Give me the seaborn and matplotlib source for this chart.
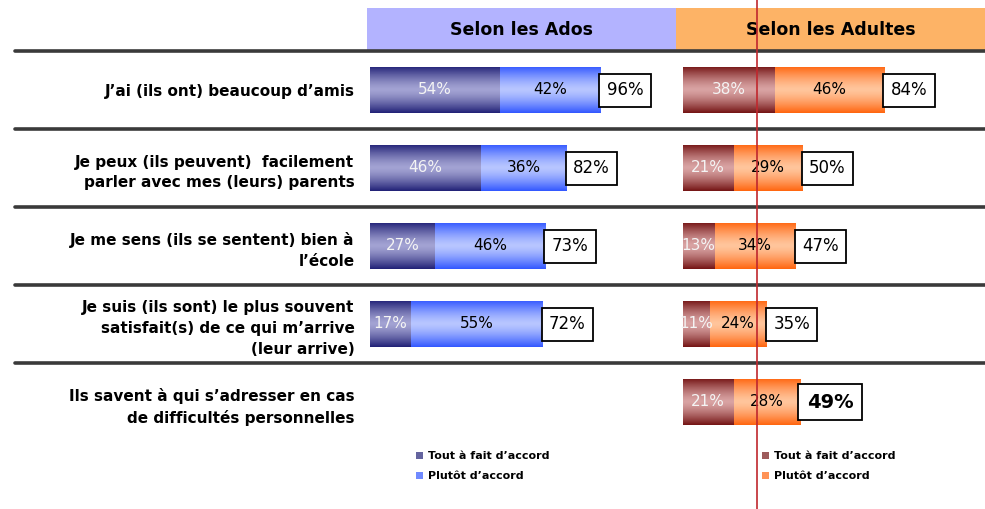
import numpy as np
import pandas as pd
import matplotlib
matplotlib.use("Agg")
import matplotlib.pyplot as plt
from matplotlib.colors import LinearSegmentedColormap
from matplotlib.patches import Rectangle, Patch
from matplotlib.lines import Line2D
import seaborn as sns

# statements (one row each)
statements = [
    "J’ai (ils ont) beaucoup d’amis",
    "Je peux (ils peuvent)  facilement\nparler avec mes (leurs) parents",
    "Je me sens (ils se sentent) bien à\nl’école",
    "Je suis (ils sont) le plus souvent\nsatisfait(s) de ce qui m’arrive\n(leur arrive)",
    "Ils savent à qui s’adresser en cas\nde difficultés personnelles",
]

# selon les ados (no answer for the last statement)
ados_tout = [54, 46, 27, 17]
ados_plutot = [42, 36, 46, 55]
ados_total = [96, 82, 73, 72]

# selon les adultes
adultes_tout = [38, 21, 13, 11, 21]
adultes_plutot = [46, 29, 34, 24, 28]
adultes_total = [84, 50, 47, 35, 49]

legend_labels = ["Tout à fait d’accord", "Plutôt d’accord"]

sns.set_style("white")
plt.rcParams["font.family"] = ["DejaVu Sans"]
plt.rcParams["text.color"] = "black"
plt.rcParams["ytick.labelcolor"] = "black"

W, H = 985, 509
fig = plt.figure(figsize=(W / 100, H / 100), dpi=100)


def fx(px):
    return px / W


def fy(py):
    return 1 - py / H


PX_PER_PCT = 2.4
top, bot = 51, 441


def shade(ax, p, edge, light, z):
    # vertical gradient clipped to the bar, dark edges and light middle
    w = p.get_width()
    if not np.isfinite(w) or w == 0:
        return
    x0, y0, h = p.get_x(), p.get_y(), p.get_height()
    t = np.linspace(0, 1, 80)
    prof = np.abs(2 * t - 1) ** 1.4
    cmap = LinearSegmentedColormap.from_list("g", [light, edge])
    img = cmap(prof)[:, None, :]
    im = ax.imshow(img, extent=(x0, x0 + w, y0 + h, y0), aspect="auto",
                   interpolation="bilinear", zorder=z)
    im.set_clip_path(p)


def draw_panel(ax, tout, plutot, totals, pal, left_px, bold_last=False):
    cats = statements[:len(tout)]
    total_df = pd.DataFrame({"stmt": cats, "val": totals})
    tout_df = pd.DataFrame({"stmt": cats, "val": tout})
    sns.barplot(data=total_df, x="val", y="stmt", order=statements, orient="h",
                color=pal["plutot"][0], width=0.6, saturation=1, errorbar=None, ax=ax)
    n_back = len(ax.patches)
    sns.barplot(data=tout_df, x="val", y="stmt", order=statements, orient="h",
                color=pal["tout"][0], width=0.6, saturation=1, errorbar=None, ax=ax)
    for i, p in enumerate(list(ax.patches)):
        if i < n_back:
            shade(ax, p, *pal["plutot"], 2)
        else:
            shade(ax, p, *pal["tout"], 3)

    for i, (a, b, t) in enumerate(zip(tout, plutot, totals)):
        ax.text(a / 2, i, f"{a}%", ha="center", va="center", color="#f4f4f4",
                fontsize=11, zorder=6)
        ax.text(a + b / 2, i, f"{b}%", ha="center", va="center", color="black",
                fontsize=11, zorder=6)
        last = bold_last and i == len(totals) - 1
        ax.text(t + 2.6, i, f"{t}%", ha="left", va="center", color="black",
                fontsize=14 if last else 12, fontweight="bold" if last else "normal",
                zorder=6,
                bbox=dict(boxstyle="square,pad=0.45", fc="white", ec="black", lw=1.3))

    left = -(left_px) / PX_PER_PCT
    ax.set_xlim(left, left + 309 / PX_PER_PCT)
    ax.set_ylim(4.5, -0.5)
    ax.set_xlabel("")
    ax.set_ylabel("")
    ax.xaxis.set_visible(False)
    for s in ax.spines.values():
        s.set_visible(False)
    ax.patch.set_alpha(0)


# separator lines across the whole width
bg = fig.add_axes([fx(15), fy(bot), 970 / W, (bot - top) / H])
bg.set_xlim(0, 1)
bg.set_ylim(4.5, -0.5)
bg.axis("off")
for yv in [-0.5, 0.5, 1.5, 2.5, 3.5]:
    bg.axhline(yv, color="#3a3a3a", lw=2.6, clip_on=False)

ax1 = fig.add_axes([fx(367), fy(bot), 309 / W, (bot - top) / H])
ax2 = fig.add_axes([fx(676), fy(bot), 309 / W, (bot - top) / H])

pal_ados = {"tout": ("#222277", "#a3a3d3"), "plutot": ("#3358ff", "#b8c6ff")}
pal_adultes = {"tout": ("#751515", "#d9a3a3"), "plutot": ("#ff6610", "#ffc59c")}

draw_panel(ax1, ados_tout, ados_plutot, ados_total, pal_ados, 3)
draw_panel(ax2, adultes_tout, adultes_plutot, adultes_total, pal_adultes, 7, bold_last=True)

ax1.tick_params(axis="y", length=0, pad=9, labelsize=11, labelcolor="black")
for lbl in ax1.get_yticklabels():
    lbl.set_fontweight("bold")
    lbl.set_linespacing(1.5)
    lbl.set_multialignment("right")
ax2.tick_params(axis="y", length=0, labelleft=False)

# headers
fig.add_artist(Rectangle((fx(367), fy(50)), 309 / W, 42 / H, transform=fig.transFigure,
                         fc="#b3b3ff", ec="none", zorder=0))
fig.add_artist(Rectangle((fx(676), fy(50)), 309 / W, 42 / H, transform=fig.transFigure,
                         fc="#fdb366", ec="none", zorder=0))
fig.text(fx(521), fy(30), "Selon les Ados", ha="center", va="center",
         fontsize=12.5, fontweight="bold", color="black")
fig.text(fx(831), fy(30), "Selon les Adultes", ha="center", va="center",
         fontsize=12.5, fontweight="bold", color="black")

# legends
for ax, pal, xpx in [(ax1, pal_ados, 412), (ax2, pal_adultes, 758)]:
    handles = [Patch(fc=pal["tout"][0], ec="none", alpha=0.7),
               Patch(fc=pal["plutot"][0], ec="none", alpha=0.7)]
    leg = ax.legend(handles, legend_labels, loc="upper left",
                    bbox_to_anchor=(fx(xpx), fy(447)), bbox_transform=fig.transFigure,
                    frameon=False, handlelength=0.6, handleheight=0.6, handletextpad=0.4,
                    labelspacing=0.9, prop=dict(size=8, weight="bold"), borderaxespad=0)
    for txt in leg.get_texts():
        txt.set_color("black")

# thin red marker line
fig.add_artist(Line2D([fx(757), fx(757)], [0, 1], transform=fig.transFigure,
                      color="#c0272d", lw=1.2, zorder=20))

fig.savefig("out.png", dpi=100)
